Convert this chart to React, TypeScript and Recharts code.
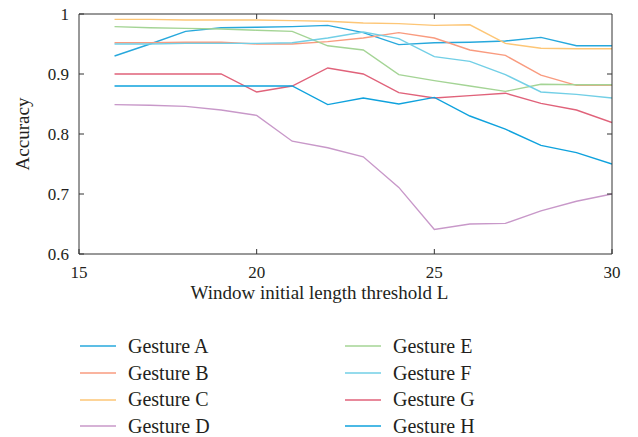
import React from "react";
import { LineChart, Line, XAxis, YAxis } from "recharts";

const thresholds = [16, 17, 18, 19, 20, 21, 22, 23, 24, 25, 26, 27, 28, 29, 30];

const gestureA = [0.93, 0.95, 0.971, 0.977, 0.978, 0.979, 0.981, 0.969, 0.949, 0.952, 0.953, 0.955, 0.961, 0.947, 0.947];
const gestureB = [0.952, 0.952, 0.953, 0.953, 0.95, 0.95, 0.954, 0.96, 0.969, 0.96, 0.94, 0.931, 0.898, 0.881, 0.881];
const gestureC = [0.991, 0.991, 0.99, 0.99, 0.99, 0.989, 0.988, 0.985, 0.984, 0.981, 0.982, 0.951, 0.943, 0.942, 0.942];
const gestureD = [0.849, 0.848, 0.846, 0.84, 0.831, 0.788, 0.777, 0.762, 0.711, 0.641, 0.65, 0.651, 0.672, 0.688, 0.7];
const gestureE = [0.979, 0.977, 0.976, 0.975, 0.973, 0.971, 0.947, 0.94, 0.899, 0.889, 0.88, 0.871, 0.883, 0.882, 0.882];
const gestureF = [0.95, 0.95, 0.951, 0.951, 0.951, 0.952, 0.96, 0.97, 0.959, 0.929, 0.921, 0.899, 0.87, 0.866, 0.86];
const gestureG = [0.9, 0.9, 0.9, 0.9, 0.87, 0.88, 0.91, 0.9, 0.869, 0.86, 0.864, 0.868, 0.851, 0.84, 0.819];
const gestureH = [0.88, 0.88, 0.88, 0.88, 0.88, 0.88, 0.849, 0.86, 0.85, 0.861, 0.83, 0.808, 0.781, 0.769, 0.75];

const xTicks = [15, 20, 25, 30];
const yTicks = [0.6, 0.7, 0.8, 0.9, 1];

const series = [
  { key: "A", name: "Gesture A", values: gestureA, color: "#27a8dc" },
  { key: "B", name: "Gesture B", values: gestureB, color: "#f99b7f" },
  { key: "C", name: "Gesture C", values: gestureC, color: "#fdc676" },
  { key: "D", name: "Gesture D", values: gestureD, color: "#c898c9" },
  { key: "E", name: "Gesture E", values: gestureE, color: "#a4d495" },
  { key: "F", name: "Gesture F", values: gestureF, color: "#72cfe6" },
  { key: "G", name: "Gesture G", values: gestureG, color: "#e0627a" },
  { key: "H", name: "Gesture H", values: gestureH, color: "#0fa2dd" },
];

const rows = thresholds.map((L, i) => {
  const row: Record<string, number> = { L };
  series.forEach((s) => {
    row[s.key] = s.values[i];
  });
  return row;
});

const X_MIN = 15;
const X_MAX = 30;
const Y_MIN = 0.6;
const Y_MAX = 1;

// chart box
const CHART_W = 638;
const CHART_H = 310;
const MARGIN = { top: 14, right: 26, left: 0, bottom: 0 };
const Y_AXIS_W = 79;
const X_AXIS_H = 56;
const PLOT = {
  left: MARGIN.left + Y_AXIS_W,
  top: MARGIN.top,
  right: CHART_W - MARGIN.right,
  bottom: CHART_H - MARGIN.bottom - X_AXIS_H,
};

const FONT = "'Liberation Serif', 'Times New Roman', serif";
const INK = "#231f20";
const AXIS = "#333";

const tickStyle = { fontSize: 17, fill: INK, fontFamily: FONT };

// top and right edges of the box with inward ticks (matlab-style frame)
function BoxFrame() {
  const px = (v: number) => PLOT.left + ((v - X_MIN) / (X_MAX - X_MIN)) * (PLOT.right - PLOT.left);
  const py = (v: number) => PLOT.bottom - ((v - Y_MIN) / (Y_MAX - Y_MIN)) * (PLOT.bottom - PLOT.top);
  return (
    <svg
      width={CHART_W}
      height={CHART_H}
      style={{ position: "absolute", left: 0, top: 0, pointerEvents: "none" }}
    >
      <g stroke={AXIS} strokeWidth={1} fill="none">
        <line x1={PLOT.left} y1={PLOT.top} x2={PLOT.right} y2={PLOT.top} />
        <line x1={PLOT.right} y1={PLOT.top} x2={PLOT.right} y2={PLOT.bottom} />
        {xTicks.slice(1, -1).map((t) => (
          <line key={`tx${t}`} x1={px(t)} y1={PLOT.top} x2={px(t)} y2={PLOT.top + 5} />
        ))}
        {yTicks.slice(1, -1).map((t) => (
          <line key={`ty${t}`} x1={PLOT.right - 5} y1={py(t)} x2={PLOT.right} y2={py(t)} />
        ))}
      </g>
    </svg>
  );
}

function GestureLegend() {
  const columns = [series.slice(0, 4), series.slice(4)];
  return (
    <div
      style={{
        position: "absolute",
        top: 333,
        left: 80,
        display: "flex",
        fontFamily: FONT,
        fontSize: 20,
        color: INK,
      }}
    >
      {columns.map((col, c) => (
        <div key={c} style={{ width: 265 }}>
          {col.map((s) => (
            <div
              key={s.key}
              style={{ height: 26.7, display: "flex", alignItems: "center" }}
            >
              <svg width={36} height={4} style={{ marginRight: 12 }}>
                <line x1={0} y1={2} x2={36} y2={2} stroke={s.color} strokeWidth={1.5} />
              </svg>
              <span>{s.name}</span>
            </div>
          ))}
        </div>
      ))}
    </div>
  );
}

export default function App() {
  return (
    <div style={{ position: "absolute", left: 0, top: 0, width: 638, height: 437, background: "#fff" }}>
      <LineChart width={CHART_W} height={CHART_H} data={rows} margin={MARGIN}>
        <XAxis
          dataKey="L"
          type="number"
          domain={[X_MIN, X_MAX]}
          allowDataOverflow
          ticks={xTicks}
          interval={0}
          height={X_AXIS_H}
          tickSize={-5}
          tickMargin={17}
          tick={tickStyle}
          stroke={AXIS}
          label={{
            value: "Window initial length threshold L",
            position: "insideBottom",
            offset: 11,
            dx: -26,
            style: { fontSize: 19, fill: INK, fontFamily: FONT },
          }}
        />
        <YAxis
          type="number"
          domain={[Y_MIN, Y_MAX]}
          allowDataOverflow
          ticks={yTicks}
          interval={0}
          width={Y_AXIS_W}
          tickSize={-5}
          tickMargin={15}
          tick={tickStyle}
          tickFormatter={(v: number) => (v === 1 ? "1" : v.toFixed(1))}
          stroke={AXIS}
          label={{
            value: "Accuracy",
            angle: -90,
            position: "insideLeft",
            offset: 22,
            style: { fontSize: 19, fill: INK, fontFamily: FONT, textAnchor: "middle" },
          }}
        />
        {series.map((s) => (
          <Line
            key={s.key}
            dataKey={s.key}
            name={s.name}
            stroke={s.color}
            strokeWidth={1.4}
            dot={false}
            activeDot={false}
            isAnimationActive={false}
          />
        ))}
      </LineChart>
      <BoxFrame />
      <GestureLegend />
    </div>
  );
}
